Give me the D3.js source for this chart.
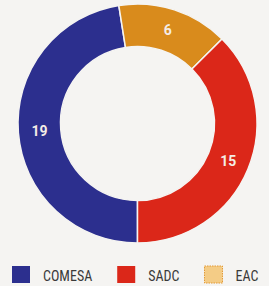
<!DOCTYPE html>
<html>
<head>
<meta charset="utf-8">
<script src="https://cdn.jsdelivr.net/npm/d3@7"></script>
<style>
  body { margin: 0; background: #f5f4f2; }
  svg { display: block; }
</style>
</head>
<body>
<div id="chart"></div>
<script>
const categories = ["COMESA", "EAC", "SADC"];
const values = [19, 6, 15];
const colors = ["#2c2f8e", "#d98b1c", "#db2719"];

const legendItems = ["COMESA", "SADC", "EAC"];

const width = 269, height = 286;
const cx = 137.5, cy = 123.5;
const outerR = 119.5, innerR = 77;

const svg = d3.select("#chart")
    .append("svg")
    .attr("width", width)
    .attr("height", height);

const g = svg.append("g")
    .attr("transform", `translate(${cx},${cy})`);

const pie = d3.pie()
    .sort(null)
    .startAngle(Math.PI)
    .endAngle(3 * Math.PI)
    .value(d => d);

const arc = d3.arc().innerRadius(innerR).outerRadius(outerR);

const arcs = pie(values);

g.selectAll("path")
    .data(arcs)
    .enter()
    .append("path")
    .attr("d", arc)
    .attr("fill", (d, i) => colors[i])
    .attr("stroke", "#f5f4f2")
    .attr("stroke-width", 1.5);

g.selectAll("text")
    .data(arcs)
    .enter()
    .append("text")
    .attr("transform", d => `translate(${arc.centroid(d)})`)
    .attr("text-anchor", "middle")
    .attr("dy", "0.35em")
    .attr("fill", "#f4ece6")
    .attr("font-family", "Roboto, Arial, sans-serif")
    .attr("font-weight", "bold")
    .attr("font-size", 14)
    .text(d => d.data);

// legend, laid out left to right by text width
const legend = svg.append("g")
    .attr("transform", "translate(0,266)");

let x = 12;
legendItems.forEach(name => {
    const item = legend.append("g")
        .attr("transform", `translate(${x},0)`);
    const isEac = name === "EAC";
    item.append("rect")
        .attr("width", 18)
        .attr("height", 17)
        .attr("fill", isEac ? "#f4cc86" : colors[categories.indexOf(name)])
        .attr("stroke", isEac ? "#e39a36" : "none")
        .attr("stroke-width", 1)
        .attr("stroke-dasharray", "1.5,1");
    const label = item.append("text")
        .attr("x", 31)
        .attr("y", 14.5)
        .attr("fill", "#3a3a3a")
        .attr("font-family", "'Liberation Sans Narrow', 'Roboto Condensed', Roboto, sans-serif")
        .attr("font-size", 14)
        .text(name);
    x += 31 + label.node().getComputedTextLength() + 25;
});
</script>
</body>
</html>
